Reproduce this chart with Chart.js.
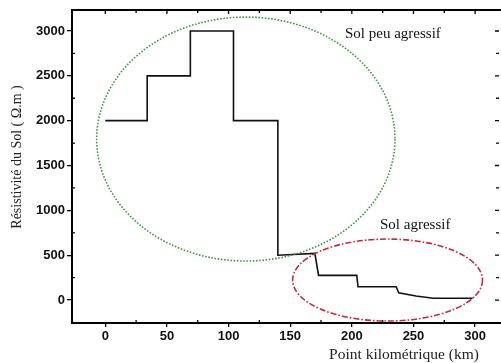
<!DOCTYPE html>
<html>
<head>
<meta charset="utf-8">
<script src="https://cdn.jsdelivr.net/npm/chart.js@4/dist/chart.umd.min.js"></script>
<style>
html,body{margin:0;padding:0;background:#fff;}
#wrap{width:501px;height:363px;position:relative;}
</style>
</head>
<body>
<div id="wrap"><canvas id="c" width="501" height="363"></canvas></div>
<script>
// ---- data ----
const km  = [0, 34, 34, 69, 69, 104, 104, 140, 140, 170, 173, 204, 205, 236, 238, 252, 266, 298];
const rho = [2000, 2000, 2500, 2500, 3000, 3000, 2000, 2000, 500, 520, 275, 275, 148, 148, 80, 45, 20, 20];
const xTicks = [0, 50, 100, 150, 200, 250, 300];
const yTicks = [0, 500, 1000, 1500, 2000, 2500, 3000];
const xMinor = [25, 75, 125, 175, 225, 275];
const yMinor = [250, 750, 1250, 1750, 2250, 2750];
const zoneLabels = ["Sol peu agressif", "Sol agressif"];
const zoneCx = [114, 229];
const zoneCy = [1795, 223];
const zoneRx = [121, 77];
const zoneRy = [1360, 457];
const xTitle = "Point kilométrique (km)";
const yTitle = "Résistivité du Sol ( Ω.m )";

const points = km.map((x, i) => ({x: x, y: rho[i]}));

const overlay = {
  id: 'overlay',
  afterDatasetsDraw(chart) {
    const ctx = chart.ctx;
    const xs = chart.scales.x, ys = chart.scales.y;
    const a = chart.chartArea;
    ctx.save();
    // ellipses
    const styles = [
      {color: '#3f9a3f', dash: [1.6, 1.6], w: 1.6},
      {color: '#c8283a', dash: [6, 2, 1.6, 2], w: 1.6}
    ];
    for (let i = 0; i < zoneCx.length; i++) {
      const cx = xs.getPixelForValue(zoneCx[i]);
      const cy = ys.getPixelForValue(zoneCy[i]);
      const rx = Math.abs(xs.getPixelForValue(zoneCx[i] + zoneRx[i]) - cx);
      const ry = Math.abs(ys.getPixelForValue(zoneCy[i] + zoneRy[i]) - cy);
      ctx.beginPath();
      ctx.setLineDash(styles[i].dash);
      ctx.strokeStyle = styles[i].color;
      ctx.lineWidth = styles[i].w;
      ctx.ellipse(cx, cy, rx, ry, 0, 0, Math.PI * 2);
      ctx.stroke();
    }
    ctx.setLineDash([]);
    // zone labels
    ctx.fillStyle = '#111';
    ctx.font = '15px "Liberation Serif", "Times New Roman", serif';
    ctx.textAlign = 'left';
    ctx.textBaseline = 'middle';
    ctx.fillText(zoneLabels[0], 345, 34);
    ctx.fillText(zoneLabels[1], 380, 225);

    // inward ticks
    ctx.strokeStyle = '#000';
    ctx.lineWidth = 1.3;
    ctx.beginPath();
    const maj = 4, mn = 3;
    xTicks.forEach(v => {
      const p = xs.getPixelForValue(v);
      ctx.moveTo(p, a.top); ctx.lineTo(p, a.top + maj);
    });
    xMinor.forEach(v => {
      const p = xs.getPixelForValue(v);
      ctx.moveTo(p, a.bottom); ctx.lineTo(p, a.bottom - mn);
      ctx.moveTo(p, a.top); ctx.lineTo(p, a.top + mn);
    });
    yTicks.forEach(v => {
      const p = ys.getPixelForValue(v);
      ctx.moveTo(a.right - 2, p); ctx.lineTo(a.right - 2 - maj, p);
    });
    yMinor.forEach(v => {
      const p = ys.getPixelForValue(v);
      ctx.moveTo(a.left, p); ctx.lineTo(a.left + mn, p);
      ctx.moveTo(a.right - 2, p); ctx.lineTo(a.right - 2 - mn, p);
    });
    ctx.stroke();

    // frame top
    ctx.lineWidth = 2;
    ctx.beginPath();
    ctx.moveTo(a.left, a.top); ctx.lineTo(a.right, a.top);
    ctx.stroke();

    // axis titles
    ctx.fillStyle = '#222';
    ctx.textAlign = 'center';
    ctx.textBaseline = 'middle';
    ctx.font = '15.5px "Liberation Serif", "Times New Roman", serif';
    ctx.fillText(xTitle, 404, 355);
    ctx.font = '14px "Liberation Serif", "Times New Roman", serif';
    ctx.save();
    ctx.translate(17, 157);
    ctx.rotate(-Math.PI / 2);
    ctx.fillText(yTitle, 0, 0);
    ctx.restore();
    ctx.restore();
  }
};

const tickFont = {family: '"Liberation Sans", Arial, sans-serif', size: 13, weight: 'bold'};

new Chart(document.getElementById('c'), {
  type: 'line',
  data: {
    datasets: [{
      data: points,
      borderColor: '#111',
      borderWidth: 1.6,
      pointRadius: 0,
      tension: 0,
      fill: false
    }]
  },
  options: {
    responsive: false,
    animation: false,
    layout: {padding: {top: 10, right: 0, left: 0, bottom: 0}},
    plugins: {legend: {display: false}, tooltip: {enabled: false}},
    scales: {
      x: {
        type: 'linear',
        min: -27, max: 321,
        afterBuildTicks: s => { s.ticks = xTicks.map(v => ({value: v})); },
        afterFit: s => { s.height = 40; },
        grid: {display: true, drawOnChartArea: false, drawTicks: true, tickLength: 4, color: '#000', lineWidth: 1.3},
        border: {display: true, color: '#000', width: 2},
        ticks: {
          padding: 2, color: '#111', maxRotation: 0, font: tickFont,
          callback: v => String(v)
        }
      },
      y: {
        type: 'linear',
        min: -256, max: 3234,
        afterBuildTicks: s => { s.ticks = yTicks.map(v => ({value: v})); },
        afterFit: s => { s.width = 72; },
        grid: {display: true, drawOnChartArea: false, drawTicks: true, tickLength: 5, color: '#000', lineWidth: 1.3},
        border: {display: true, color: '#000', width: 2},
        ticks: {
          padding: 2, color: '#111', font: tickFont,
          callback: v => String(v)
        }
      }
    }
  },
  plugins: [overlay]
});
</script>
</body>
</html>
